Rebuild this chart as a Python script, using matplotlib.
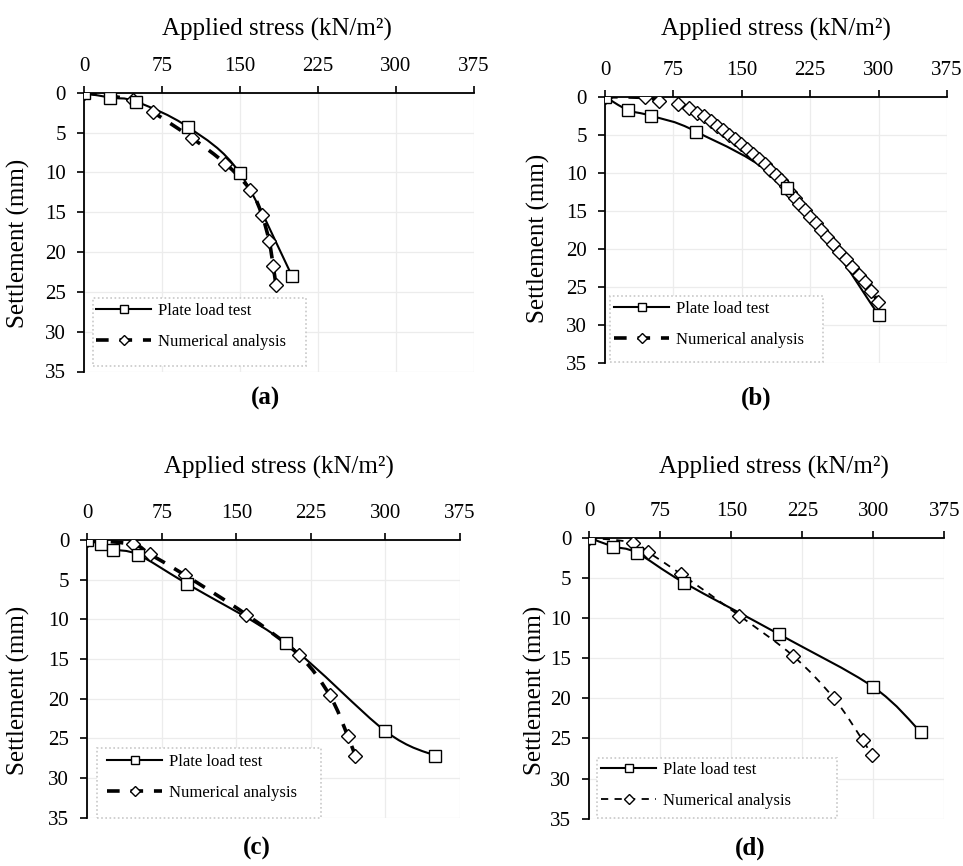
import numpy as np
import matplotlib
matplotlib.use('Agg')
import matplotlib.pyplot as plt
from matplotlib.path import Path
from matplotlib.patches import PathPatch, Rectangle
from matplotlib.lines import Line2D

plt.rcParams['font.family'] = ['Liberation Serif', 'DejaVu Serif']

# ---- data (stress kN/m2, settlement mm) ----
a_plt_x = [0, 25, 50, 100, 150, 200]
a_plt_y = [0, 0.6, 1.1, 4.3, 10.1, 23.0]
a_num_x = [0, 47, 66, 104, 136, 160, 171, 178, 182, 184.5]
a_num_y = [0, 0.9, 2.4, 5.7, 8.9, 12.2, 15.3, 18.6, 21.8, 24.1]

b_plt_x = [0, 25, 50, 100, 200, 300]
b_plt_y = [0, 1.75, 2.5, 4.6, 12.0, 28.7]
b_num_x = [0, 44, 59, 80.4, 92.5, 100.5, 108.6, 115.9, 122.8, 129.7, 136.3, 142.9,
           149.5, 156.1, 162.7, 168.9, 175.4, 181.3, 187.5, 193, 198, 203, 208, 213,
           219, 225, 231, 237, 243, 250, 257, 264, 271, 278, 285, 292, 299]
b_num_y = [0, 0.1, 0.5, 1.0, 1.5, 2.1, 2.6, 3.2, 3.8, 4.4, 5.0, 5.6,
           6.2, 6.9, 7.5, 8.2, 8.9, 9.6, 10.3, 11.0, 11.8, 12.5, 13.3, 14.1,
           14.9, 15.8, 16.6, 17.5, 18.4, 19.4, 20.4, 21.4, 22.4, 23.4, 24.4, 25.5, 27.0]

c_plt_x = [0, 13.5, 26, 51, 100, 200, 300, 350]
c_plt_y = [0, 0.55, 1.2, 1.85, 5.5, 13.0, 24.1, 27.2]
c_num_x = [0, 46, 63, 98, 160, 213, 244, 262, 269.5]
c_num_y = [0, 0.55, 1.8, 4.4, 9.4, 14.5, 19.6, 24.7, 27.2]

d_plt_x = [0, 25, 50, 100, 200, 300, 350]
d_plt_y = [0, 1.1, 1.87, 5.6, 12.0, 18.6, 24.2]
d_num_x = [0, 46, 62, 96.5, 158.4, 215, 258.4, 288.6, 298.8]
d_num_y = [0, 0.6, 1.8, 4.5, 9.7, 14.7, 20.0, 25.2, 27.1]

x_ticks = [0, 75, 150, 225, 300, 375]
y_ticks = [0, 5, 10, 15, 20, 25, 30, 35]
panel_names = ['(a)', '(b)', '(c)', '(d)']

W, H = 963, 866
fig = plt.figure(figsize=(W / 100, H / 100), dpi=100)


def fx(px):
    return px / W


def fy(py):
    return 1 - py / H


def smooth(x, y):
    # Excel-like smoothed line through the points (Catmull-Rom -> Bezier)
    p = np.column_stack([x, y]).astype(float)
    n = len(p)
    verts = [p[0]]
    codes = [Path.MOVETO]
    for i in range(n - 1):
        p0 = p[i - 1] if i > 0 else p[i]
        p3 = p[i + 2] if i + 2 < n else p[i + 1]
        verts += [p[i] + (p[i + 1] - p0) / 6, p[i + 1] - (p3 - p[i]) / 6, p[i + 1]]
        codes += [Path.CURVE4] * 3
    return Path(verts, codes)


# panel layout in pixels: axes box, title, ylabel, letter, legend box, legend anchor
panels = [
    dict(px=(84, 92.8, 474, 371.5), title=(277, 29), ylab=(18, 243), letter=(265, 398),
         box=(92.7, 298, 306, 366), leg=(96, 303), thin=False,
         data=(a_plt_x, a_plt_y, a_num_x, a_num_y)),
    dict(px=(605, 96.7, 947, 362.7), title=(776, 29), ylab=(538, 238), letter=(756, 398),
         box=(610, 296, 822.7, 361.7), leg=(614, 301), thin=False,
         data=(b_plt_x, b_plt_y, b_num_x, b_num_y)),
    dict(px=(87.3, 540, 460, 817.6), title=(279, 467), ylab=(18, 690), letter=(257, 848),
         box=(97.3, 748.3, 320.7, 818.3), leg=(107, 754), thin=False,
         data=(c_plt_x, c_plt_y, c_num_x, c_num_y)),
    dict(px=(589.3, 537.7, 944.3, 818.7), title=(774, 467), ylab=(535, 690), letter=(750, 848),
         box=(597, 758, 837, 818), leg=(601, 762), thin=True,
         data=(d_plt_x, d_plt_y, d_num_x, d_num_y)),
]

for name, pn in zip(panel_names, panels):
    l, t, r, b = pn['px']
    ax = fig.add_axes([fx(l), fy(b), fx(r - l), (b - t) / H])
    px_, py_, nx_, ny_ = pn['data']

    if pn['thin']:
        num_lw, num_dash = 1.3, (0, (4, 3.5))
    else:
        num_lw, num_dash = 2.6, (0, (3.5, 3))

    ax.add_patch(PathPatch(smooth(nx_, ny_), fill=False, lw=num_lw, ls=num_dash,
                           ec='black', zorder=2, capstyle='butt'))
    ax.add_patch(PathPatch(smooth(px_, py_), fill=False, lw=1.5, ec='black', zorder=3))
    ax.plot(nx_, ny_, ls='none', marker='D', ms=6.8, mfc='white', mec='black',
            mew=1.0, zorder=4)
    ax.plot(px_, py_, ls='none', marker='s', ms=8.5, mfc='white', mec='black',
            mew=1.0, zorder=4)

    ax.set_xlim(0, 375)
    ax.set_ylim(35, 0)
    ax.set_xticks(x_ticks)
    ax.set_yticks(y_ticks)
    ax.xaxis.tick_top()
    ax.tick_params(axis='both', direction='out', length=5, width=1.2,
                   labelsize=15, color='black')
    ax.tick_params(axis='x', pad=7)
    ax.tick_params(axis='y', pad=8)
    for s in ['bottom', 'right']:
        ax.spines[s].set_visible(False)
    for s in ['top', 'left']:
        ax.spines[s].set_linewidth(1.3)
    ax.grid(True, color='#ececec', lw=0.9)
    ax.set_axisbelow(True)

    fig.text(fx(pn['title'][0]), fy(pn['title'][1]), 'Applied stress (kN/m²)',
             ha='center', va='center', fontsize=18)
    fig.text(fx(pn['ylab'][0]), fy(pn['ylab'][1]), 'Settlement (mm)', rotation=90,
             ha='center', va='center', fontsize=18)
    fig.text(fx(pn['letter'][0]), fy(pn['letter'][1]), name, ha='center', va='center',
             fontsize=18, fontweight='bold')

    bl, bt, br, bb = pn['box']
    fig.add_artist(Rectangle((fx(bl), fy(bb)), fx(br - bl), (bb - bt) / H,
                             transform=fig.transFigure, fc='white', ec='#c8c8c8',
                             ls=(0, (1, 1.5)), lw=1.2, zorder=2))
    h1 = Line2D([], [], color='black', lw=1.5, marker='s', ms=8.5, mfc='white',
                mec='black', mew=1.0)
    h2 = Line2D([], [], color='black', lw=num_lw, ls=num_dash, marker='D', ms=6.8,
                mfc='white', mec='black', mew=1.0)
    leg = fig.legend([h1, h2], ['Plate load test', 'Numerical analysis'],
                     loc='upper left', bbox_to_anchor=(fx(pn['leg'][0]), fy(pn['leg'][1])),
                     frameon=False, fontsize=12, handlelength=3.3, handletextpad=0.4,
                     labelspacing=0.9, borderpad=0, borderaxespad=0, markerscale=0.75)
    leg.set_zorder(5)

fig.savefig('out.png', dpi=100)
